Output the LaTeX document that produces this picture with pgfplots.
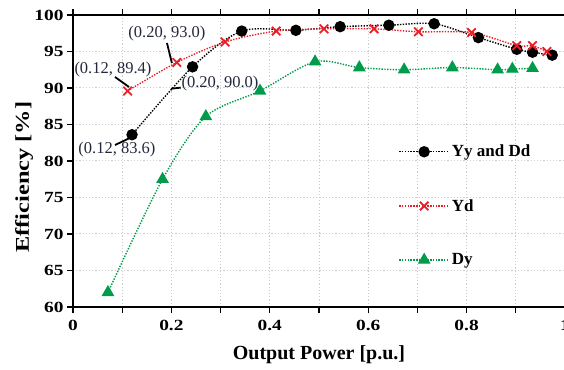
\documentclass[border=0pt]{standalone}
\usepackage{pgfplots}
\pgfplotsset{compat=1.18}
\usepackage{fontspec}
\setmainfont{Liberation Serif}
\newfontfamily\stretchfont{Liberation Serif}[FakeStretch=1.25]
\definecolor{myred}{RGB}{232,32,40}
\definecolor{mygreen}{RGB}{0,155,75}
\definecolor{annot}{RGB}{35,40,60}
\begin{document}
\begin{tikzpicture}
\begin{axis}[
  scale only axis, width=492pt, height=292pt,
  xmin=0, xmax=1, ymin=60, ymax=100,
  xtick={0,0.1,0.2,0.3,0.4,0.5,0.6,0.7,0.8,0.9,1},
  xticklabels={0,,0.2,,0.4,,0.6,,0.8,,1},
  ytick={60,65,70,75,80,85,90,95,100},
  grid=major, grid style={dash pattern=on 1.2pt off 2pt, gray!40, line width=1pt},
  axis line style={line width=1.4pt},
  tick align=outside, major tick length=6pt, tick style={black, line width=1.2pt},
  ticklabel style={font=\stretchfont\bfseries\fontsize{15.5}{15.5}\selectfont},
  xticklabel style={yshift=-4pt},
  /pgf/number format/assume math mode=true,
  xlabel={Output Power [p.u.]},
  xlabel style={font=\bfseries\fontsize{20}{20}\selectfont, at={(axis description cs:0.5,0)}, anchor=center, yshift=-48pt},
  legend style={at={(axis cs:0.655,82.75)}, anchor=north west, draw=none, fill=none,
     font=\bfseries\fontsize{17}{17}\selectfont, row sep=37pt},
  legend cell align=left,
  legend image code/.code={\draw[#1, mark repeat=2, mark phase=2] plot coordinates {(0pt,0pt) (25pt,0pt) (50pt,0pt)};},
]
\addplot[black, line width=1.4pt, dash pattern=on 1.4pt off 1.4pt, smooth, tension=0.5,
  mark=*, mark size=5pt, mark options={solid, fill=black}] coordinates {
 (0.12,83.6) (0.243,92.9) (0.343,97.8) (0.453,97.9) (0.543,98.4) (0.642,98.6)
 (0.734,98.8) (0.824,96.9) (0.902,95.3) (0.934,94.9) (0.974,94.5)};
\addlegendentry{Yy and Dd}
\addplot[myred, line width=1.4pt, dash pattern=on 1.4pt off 1.4pt, smooth, tension=0.5,
  mark=x, mark size=6pt, mark options={solid, line width=1.8pt}] coordinates {
 (0.111,89.6) (0.211,93.5) (0.309,96.3) (0.413,97.8) (0.510,98.1) (0.612,98.1)
 (0.702,97.7) (0.810,97.6) (0.902,95.8) (0.934,95.8) (0.963,95.0)};
\addlegendentry{Yd}
\addplot[mygreen, line width=1.4pt, dash pattern=on 1.4pt off 1.4pt, smooth, tension=0.5,
  mark=triangle*, mark size=6pt, mark options={solid, fill=mygreen}] coordinates {
 (0.071,62.0) (0.182,77.5) (0.270,86.1) (0.380,89.6) (0.492,93.6) (0.582,92.8)
 (0.673,92.5) (0.771,92.8) (0.863,92.5) (0.893,92.6) (0.934,92.7)};
\addlegendentry{Dy}
\node[font=\fontsize{16.5}{16.5}\selectfont, text=annot] at (axis cs:0.0813,92.47) {(0.12, 89.4)};
\draw[line width=1.8pt] (axis cs:0.0854,91.51) -- (axis cs:0.1138,90.14);
\node[font=\fontsize{16.5}{16.5}\selectfont, text=annot] at (axis cs:0.191,97.47) {(0.20, 93.0)};
\draw[line width=1.8pt] (axis cs:0.191,96.16) -- (axis cs:0.201,93.42);
\node[font=\fontsize{16.5}{16.5}\selectfont, text=annot] at (axis cs:0.2988,90.55) {(0.20, 90.0)};
\draw[line width=1.8pt] (axis cs:0.199,89.9) -- (axis cs:0.219,90.05);
\node[font=\fontsize{16.5}{16.5}\selectfont, text=annot] at (axis cs:0.0894,81.58) {(0.12, 83.6)};
\draw[line width=1.8pt] (axis cs:0.0854,82.19) -- (axis cs:0.1199,83.29);
\coordinate (sw) at (rel axis cs:0,0);
\coordinate (ne) at (rel axis cs:1,1);
\coordinate (yl) at (rel axis cs:0,0.445);
\end{axis}
\node[font=\stretchfont\bfseries\fontsize{19.5}{19.5}\selectfont, rotate=90, anchor=center] at ([xshift=-49pt]yl) {Efficiency [\%]};
\pgfresetboundingbox
\path[use as bounding box] ([shift={(-73pt,-62pt)}]sw) rectangle ([shift={(-1pt,15pt)}]ne);
\end{tikzpicture}
\end{document}
